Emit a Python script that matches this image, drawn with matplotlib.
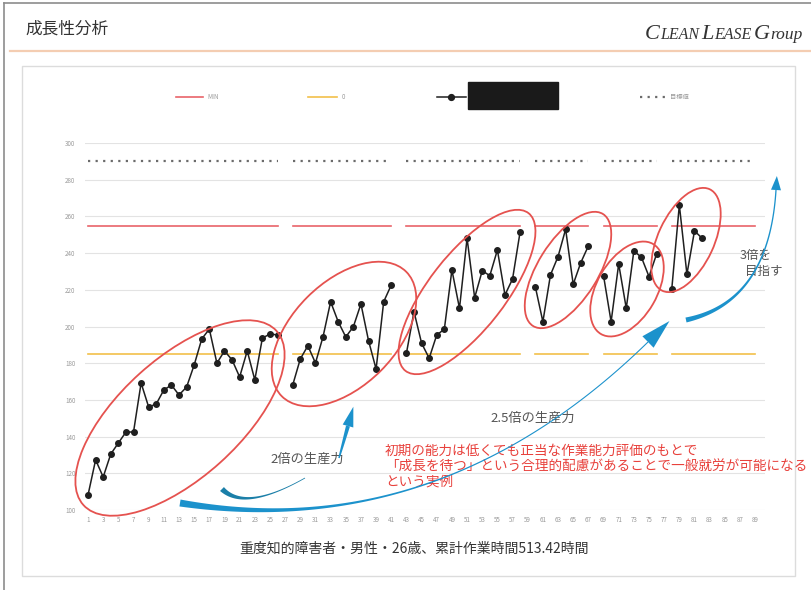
import numpy as np
import matplotlib.pyplot as plt
import matplotlib.transforms as mtransforms
from matplotlib.patches import Ellipse, Polygon, Rectangle
from matplotlib.lines import Line2D

nan = np.nan

# work sessions 1..89, one output value per session (blank = no record)
sessions = np.arange(1, 90)
progress = [
    108.2, 127.3, 118.0, 130.5, 136.5, 142.5, 142.5, 169.2, 156.1, 157.8,
    165.4, 168.1, 162.7, 167.0, 179.0, 193.2, 198.6, 180.0, 186.7, 181.8,
    172.5, 186.7, 170.9, 193.7, 195.9, 195.4, nan,
    168.1, 182.3, 189.5, 180.1, 194.4, 213.5, 202.6, 194.3, 199.9, 212.3,
    192.3, 176.8, 213.5, 222.6, nan,
    185.4, 208.1, 190.9, 182.7, 195.4, 198.5, 230.8, 209.9, 248.1, 215.7,
    230.4, 227.7, 241.7, 217.2, 225.9, 251.7, nan,
    221.7, 202.6, 228.1, 238.1, 253.0, 223.0, 234.8, 243.9, nan,
    227.7, 202.6, 234.1, 209.9, 241.2, 237.7, 227.2, 239.5, nan,
    220.3, 266.2, 228.5, 252.1, 248.1,
    nan, nan, nan, nan, nan, nan, nan,
]
breaks = [27, 42, 59, 68, 77]
max_level = 254.5
mean_level = 185.0
target_level = 290.0
y_ticks = list(range(100, 301, 20))
x_ticks = list(range(1, 90, 2))

legend_labels = ["MIN", "0", "", "目標値"]
caption = "重度知的障害者・男性・26歳、累計作業時間513.42時間"
note_lines = [
    "初期の能力は低くても正当な作業能力評価のもとで",
    "「成長を待つ」という合理的配慮があることで一般就労が可能になる",
    "という実例",
]


def level_series(level):
    s = np.full(len(sessions), level)
    s[np.array(breaks) - 1] = np.nan
    return s


W, H = 811, 590
plt.rcParams['font.family'] = ['Noto Sans CJK JP', 'DejaVu Sans']

fig = plt.figure(figsize=(W / 100, H / 100), dpi=100)
fig.patch.set_facecolor('white')
# pixel coordinates, origin top-left
PX = mtransforms.Affine2D().scale(1 / W, -1 / H).translate(0, 1) + fig.transFigure

RED = '#e5524f'
BLUE = '#1c92cc'

# ---------- frame / header ----------
fig.add_artist(Line2D([4, W], [3, 3], transform=PX, color='#8c8c8c', lw=1.2))
fig.add_artist(Line2D([4, 4], [3, H], transform=PX, color='#8c8c8c', lw=1.2))
fig.add_artist(Line2D([10, W], [51, 51], transform=PX, color='#f4cdb2', lw=1.6))
fig.add_artist(Rectangle((22, 66), 773, 510, transform=PX, fill=False,
                         ec='#dcdcdc', lw=1.0))

fig.text(25, 29, "成長性分析", transform=PX, fontsize=12, color='#333333',
         va='center', ha='left')

renderer = fig.canvas.get_renderer()
logo = [("C", 16), ("LEAN", 11.5), (" ", 8), ("L", 16), ("EASE", 11.5),
        (" ", 8), ("G", 16), ("roup", 12.5)]
lx = 645
for piece, size in logo:
    t = fig.text(lx, 39, piece, transform=PX, fontsize=size,
                 family='Liberation Serif', style='italic', color='#333333',
                 va='baseline', ha='left')
    lx += t.get_window_extent(renderer=renderer).width

# ---------- legend ----------
ly = 97
fig.add_artist(Line2D([176, 203], [ly, ly], transform=PX, color='#e9646a', lw=1.2))
fig.text(207, ly, legend_labels[0], transform=PX, fontsize=4.5, color='#9a9a9a', va='center')
fig.add_artist(Line2D([308, 337], [ly, ly], transform=PX, color='#f2c04a', lw=1.2))
fig.text(342, ly, legend_labels[1], transform=PX, fontsize=4.5, color='#9a9a9a', va='center')
fig.add_artist(Line2D([437, 451, 466], [ly, ly, ly], transform=PX, color='#1f1f1f',
                      lw=1.1, marker='o', markevery=[1], ms=4.2))
fig.add_artist(Rectangle((468, 82), 90, 27, transform=PX, fc='#1a1a1a', ec='#1a1a1a'))
fig.add_artist(Line2D([640, 665], [ly, ly], transform=PX, color='#6b6b6b', lw=1.6,
                      ls=(0, (1, 2.4))))
fig.text(670, ly, legend_labels[3], transform=PX, fontsize=4.5, color='#9a9a9a', va='center')

# ---------- chart ----------
ax = fig.add_axes([85 / W, 1 - 510 / H, 680 / W, 367 / H])
ax.plot(sessions, level_series(target_level), color='#6b6b6b', lw=1.6, ls=(0, (1, 2.4)))
ax.plot(sessions, level_series(max_level), color='#e9646a', lw=1.2)
ax.plot(sessions, level_series(mean_level), color='#f2c04a', lw=1.2)
ax.plot(sessions, progress, color='#1f1f1f', lw=1.1, marker='o', ms=4.0, zorder=5)

ax.set_xlim(0.6, 90.3)
ax.set_ylim(100, 300)
ax.set_yticks(y_ticks)
ax.set_xticks(x_ticks)
ax.grid(axis='y', color='#e3e3e3', lw=0.8)
ax.set_axisbelow(True)
for s in ax.spines.values():
    s.set_visible(False)
ax.tick_params(length=0, labelsize=4.5, labelcolor='#9a9a9a')
ax.tick_params(axis='y', pad=7)
ax.tick_params(axis='x', pad=4)

# ---------- circled phases ----------
rings = [((180, 418), 260, 120, -42), ((344, 334), 176, 104, -45),
         ((467, 292), 200, 76, -52), ((568, 270), 132, 60, -58),
         ((627, 289), 104, 60, -60), ((686, 240), 112, 56, -65)]
for c, w, h, a in rings:
    fig.add_artist(Ellipse(c, w, h, angle=a, transform=PX, fill=False,
                           ec=RED, lw=1.3, zorder=6))


# ---------- blue arrows ----------
def swoosh(p0, c, p2, w0, w1, p=1.0, head=None, color=BLUE):
    p0, c, p2 = map(np.asarray, (p0, c, p2))
    t = np.linspace(0, 1, 100)[:, None]
    pts = (1 - t) ** 2 * p0 + 2 * (1 - t) * t * c + t ** 2 * p2
    d = 2 * (1 - t) * (c - p0) + 2 * t * (p2 - c)
    d = d / np.linalg.norm(d, axis=1, keepdims=True)
    n = np.column_stack([-d[:, 1], d[:, 0]])
    w = (w1 + (w0 - w1) * (1 - t) ** p) / 2
    poly = np.vstack([pts + n * w, (pts - n * w)[::-1]])
    fig.add_artist(Polygon(poly, closed=True, transform=PX, fc=color, ec='none', zorder=7))
    if head:
        L, Wd = head
        u, nn = d[-1], n[-1]
        tri = [p2 + u * L, p2 + nn * Wd / 2, p2 - nn * Wd / 2]
        fig.add_artist(Polygon(tri, closed=True, transform=PX, fc=color, ec='none', zorder=7))


swoosh((222, 489), (245, 512), (305, 478), 5.5, 0.8, p=2, color='#1b7fa8')
swoosh((180, 503), (440, 545), (648, 342), 7, 1.1, p=4, head=(30, 16))
swoosh((686, 320), (769, 302), (776, 190), 5, 1.3, p=2.5, head=(14, 10))
swoosh((339, 458), (343, 444), (348, 426), 1.5, 4, head=(20, 11))

# ---------- annotations ----------
fig.text(270, 459, "2倍の生産力", transform=PX, fontsize=9.5, color='#555555', va='center')
fig.text(490, 418, "2.5倍の生産力", transform=PX, fontsize=9.5, color='#555555', va='center')
fig.text(740, 255, "3倍を", transform=PX, fontsize=9, color='#555555', va='center')
fig.text(745, 271, "目指す", transform=PX, fontsize=9, color='#555555', va='center')
for i, line in enumerate(note_lines):
    fig.text(385, 451 + i * 15.5, line, transform=PX, fontsize=9.8, color='#e8413c',
             va='center')

fig.text(414, 549, caption, transform=PX, fontsize=10, color='#333333',
         ha='center', va='center')

fig.savefig("out.png", dpi=100)
